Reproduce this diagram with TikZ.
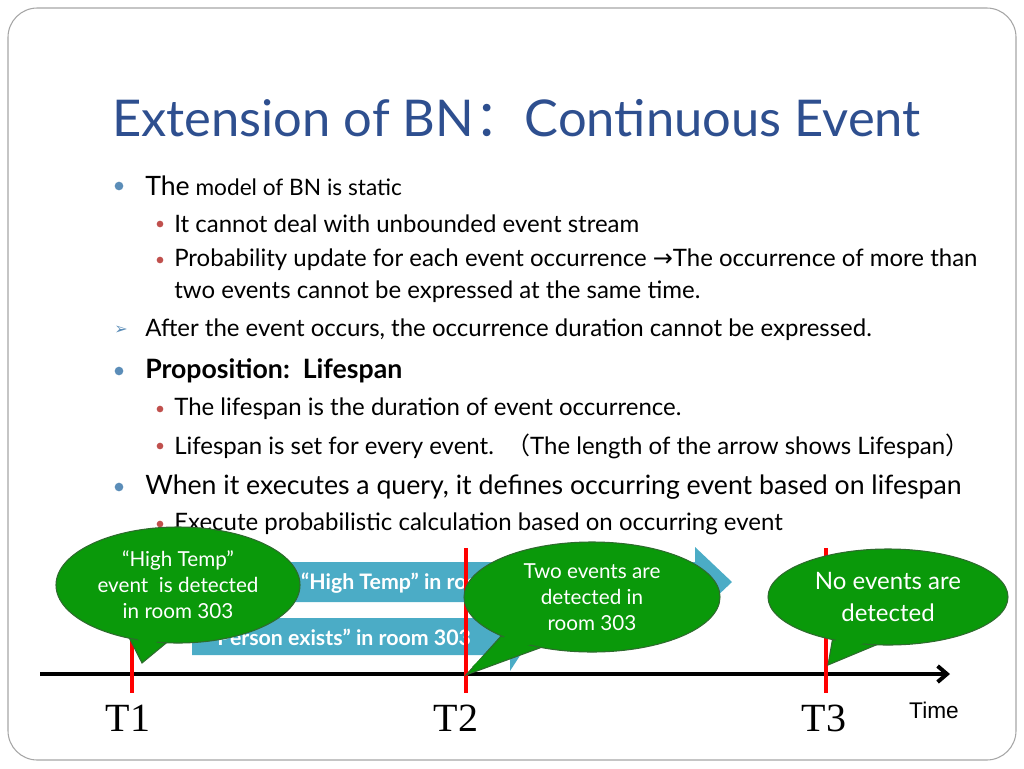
\documentclass[tikz,border=0pt]{standalone}
\usepackage{fontspec}
\setmainfont{Lato}
\newfontfamily\serifT{Liberation Serif}
\newfontfamily\arialT{Liberation Sans}
\newfontfamily\symf{DejaVu Sans}
\newfontfamily\cjkf{Noto Sans CJK SC}
\usetikzlibrary{arrows.meta}
\definecolor{titleblue}{HTML}{2E4F8F}
\definecolor{bulblue}{HTML}{5B8DB8}
\definecolor{bulred}{HTML}{C0504D}
\definecolor{arrowblue}{HTML}{4BACC6}
\definecolor{calgreen}{HTML}{0A990A}
\definecolor{calborder}{HTML}{2E6B2E}
\newcommand{\fs}[1]{\fontsize{#1}{#1}\selectfont}
\begin{document}
\begin{tikzpicture}[x=0.75pt,y=-0.75pt,
  txt/.style={anchor=west,inner sep=0,text=black},
  bul/.style={circle,fill=bulblue,inner sep=0,minimum size=6.5pt},
  sbul/.style={circle,fill=bulred,inner sep=0,minimum size=5pt},
  call/.style={fill=calgreen,draw=calborder,line width=0.8pt},
  calltxt/.style={text=white,align=center,font=\fs{15.5},inner sep=0},
  redl/.style={draw=red,line width=3pt},
  arrtxt/.style={text=white,font=\bfseries\fs{16},inner sep=0}]
\useasboundingbox (0,0) rectangle (1024,768);
\draw[gray!70,line width=0.8pt,rounded corners=22pt] (8,8) rectangle (1016,760);
\node[anchor=west,text=titleblue,font=\fs{38},inner sep=0] (title) at (112,118) {Extension of BN{\cjkf：}Continuous Event};
% bullets
\node[bul] (b1) at (119,186) {};
\node[txt,font=\fs{17}] (t1) at (145,186) {{\fs{20}The} model of BN is static};
\node[sbul] (s1) at (160,224) {};
\node[txt,font=\fs{18}] (t2) at (174,224) {It cannot deal with unbounded event stream};
\node[sbul] (s2) at (160,260) {};
\node[txt,font=\fs{18}] (t3) at (174,260) {Probability update for each event occurrence {\symf→}The occurrence of more than};
\node[txt,font=\fs{18}] (t3b) at (174,292) {two events cannot be expressed at the same time.};
\node[anchor=center,inner sep=0,font=\symf\fs{12},text=bulblue] (b2) at (121,330) {➢};
\node[txt,font=\fs{18}] (t4) at (145,330) {After the event occurs, the occurrence duration cannot be expressed.};
\node[bul] (b3) at (119,371) {};
\node[txt,font=\bfseries\fs{20}] (t5) at (145,371) {Proposition:\ \ Lifespan};
\node[sbul] (s3) at (160,409) {};
\node[txt,font=\fs{18}] (t6) at (174,409) {The lifespan is the duration of event occurrence.};
\node[sbul] (s4) at (160,446) {};
\node[txt,font=\fs{18}] (t7) at (174,446) {Lifespan is set for every event.\ \ {\cjkf（}The length of the arrow shows Lifespan{\cjkf）}};
\node[bul] (b4) at (119,487) {};
\node[txt,font=\fs{20}] (t8) at (145,487) {When it executes a query, it defines occurring event based on lifespan};
\node[sbul] (s5) at (160,524) {};
\node[txt,font=\fs{18}] (t9) at (174,524) {Execute probabilistic calculation based on occurring event};
% blue arrows
\fill[arrowblue] (150,562) -- (695,562) -- (695,547) -- (732,582) -- (695,617) -- (695,602) -- (150,602) -- cycle;
\node[arrtxt] (a1) at (420,583) {“High Temp” in room 303};
\fill[arrowblue] (192,618) -- (510,618) -- (510,603) -- (532,637) -- (510,671) -- (510,655) -- (192,655) -- cycle;
\node[arrtxt] (a2) at (340,637) {“Person exists” in room 303};
% axis
\coordinate (ax0) at (40,674);
\coordinate (ax1) at (950,674);
\draw[line width=3pt,-{Straight Barb[length=7pt,width=12pt]}] (ax0) -- (ax1);
\draw[line width=3pt] (466,660) -- (466,690);
\draw[line width=3pt] (826,660) -- (826,690);
\draw[redl] (132,620) -- (132,693);
\draw[redl] (466,548) -- (466,693);
\draw[redl] (826,548) -- (826,693);
% callouts
\draw[call] (110,600) -- (142,663) -- (200,615) -- cycle;
\draw[call] (178,585) ellipse [x radius=122,y radius=58];
\fill[calgreen] (125,600) -- (143,655) -- (188,612) -- cycle;
\node[calltxt] (c1) at (178,585) {“High Temp”\\[4pt]event\ \ is detected\\[4pt]in room 303};
\draw[call] (520,615) -- (466,675) -- (575,635) -- cycle;
\draw[call] (592,597) ellipse [x radius=128,y radius=55];
\fill[calgreen] (528,615) -- (472,667) -- (568,630) -- cycle;
\node[calltxt] (c2) at (592,597) {Two events are\\[4pt]detected in\\[4pt]room 303};
\draw[call] (835,625) -- (828,665) -- (900,635) -- cycle;
\draw[call] (888,597) ellipse [x radius=120,y radius=48];
\fill[calgreen] (840,625) -- (831,657) -- (890,632) -- cycle;
\node[calltxt,font=\fs{18}] (c3) at (888,597) {No events are\\[6pt]detected};
% labels
\node[font=\serifT\fs{30},inner sep=0] (T1) at (128,718) {T1};
\node[font=\serifT\fs{30},inner sep=0] (T2) at (456,718) {T2};
\node[font=\serifT\fs{30},inner sep=0] (T3) at (824,718) {T3};
\node[font=\arialT\fs{17},inner sep=0] (time) at (934,710) {Time};
\end{tikzpicture}
\end{document}
